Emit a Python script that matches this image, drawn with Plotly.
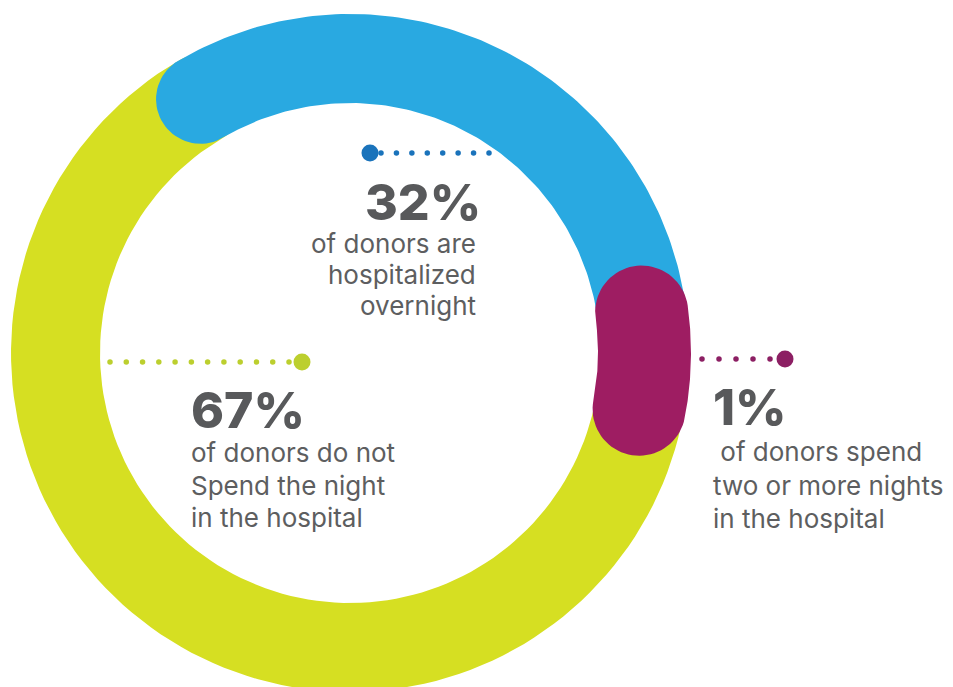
import numpy as np
import plotly.graph_objects as go

# ---- data -------------------------------------------------------------
categories = ["Hospitalized overnight", "Two or more nights", "No overnight stay"]
percent = [32, 1, 67]
percent_labels = ["32%", "1%", "67%"]
descriptions = [
    ["of donors are", "hospitalized", "overnight"],
    ["\u00a0of donors spend", "two or more nights", "in the hospital"],
    ["of donors do not", "Spend the night", "in the hospital"],
]

# ---- style ------------------------------------------------------------
ring_colors = ["#29a9e1", "#9e1d62", "#d6df22"]
dot_colors = ["#1a73bb", "#8c1f63", "#bccf2e"]
TEXT_GREY = "#58595b"
BODY_GREY = "#5d5e60"
FONT = "Inter"

W, H = 953, 687
CX, CY = 350, 353          # ring centre in page pixels
R_OUT, R_IN = 339, 250     # ring radii (px)
START = -30.5              # first slice starts here (deg, clockwise from 12 o'clock)
MIN_SPAN = 19              # tiny slices are drawn as a pill at least this long
TUCK = 2.7                 # pills tuck back over the previous slice's end cap
PILL_GROW = 2              # pills are a touch thicker than the ring


def px(x, y):
    """page pixel -> data coordinates (origin at ring centre, y up)"""
    return x - CX, CY - y


def rounded_arc(a0, a1, r_mid, half, n=120):
    """closed outline of an arc band with round caps (angles in degrees)"""
    t0, t1 = np.radians(a0), np.radians(a1)
    th = np.linspace(t0, t1, n)
    ox, oy = (r_mid + half) * np.sin(th), (r_mid + half) * np.cos(th)
    ix, iy = (r_mid - half) * np.sin(th[::-1]), (r_mid - half) * np.cos(th[::-1])

    def cap(t, phis):
        cx, cy = r_mid * np.sin(t), r_mid * np.cos(t)
        ur = np.array([np.sin(t), np.cos(t)])
        ut = np.array([np.cos(t), -np.sin(t)])
        return (cx + half * (np.cos(phis) * ur[0] + np.sin(phis) * ut[0]),
                cy + half * (np.cos(phis) * ur[1] + np.sin(phis) * ut[1]))

    ex, ey = cap(t1, np.linspace(0, np.pi, 40))
    sx, sy = cap(t0, np.linspace(np.pi, 2 * np.pi, 40))
    xs = np.concatenate([ox, ex, ix, sx])
    ys = np.concatenate([oy, ey, iy, sy])
    return xs, ys


# slice angles from the percentages
cum = np.concatenate([[0], np.cumsum(percent)[:-1]])
starts = START + np.array(cum) * 3.6
spans = np.array(percent) * 3.6

r_mid = (R_OUT + R_IN) / 2
half = (R_OUT - R_IN) / 2

fig = go.Figure()

# largest slice underneath, then the others stacked on top
draw_order = [2, 0, 1]
for i in draw_order:
    a0, span = starts[i], spans[i]
    h = half
    if span < MIN_SPAN:
        a0 = a0 - TUCK
        span = MIN_SPAN
        h = half + PILL_GROW
    xs, ys = rounded_arc(a0, a0 + span, r_mid, h)
    fig.add_trace(go.Scatter(
        x=xs, y=ys, mode="lines", fill="toself",
        fillcolor=ring_colors[i], line=dict(width=0, color=ring_colors[i]),
        hoverinfo="text", text=f"{categories[i]}: {percent[i]}%",
        showlegend=False,
    ))

# ---- dotted leaders ---------------------------------------------------
# (small dots from, small dots to, count, big dot x, y) in page pixels
leaders = [
    (381, 489, 8, 370, 153),
    (702, 770, 5, 785, 359),
    (110, 289, 12, 302, 362),
]
for i, (s0, s1, n, bx, by) in enumerate(leaders):
    sx = np.linspace(s0, s1, n)
    dx, dy = px(sx, np.full(n, by))
    fig.add_trace(go.Scatter(x=dx, y=dy, mode="markers",
                             marker=dict(size=5.5, color=dot_colors[i], line=dict(width=0)),
                             hoverinfo="skip", showlegend=False))
    bxd, byd = px(bx, by)
    fig.add_trace(go.Scatter(x=[bxd], y=[byd], mode="markers",
                             marker=dict(size=17, color=dot_colors[i], line=dict(width=0)),
                             hoverinfo="skip", showlegend=False))

# ---- labels -----------------------------------------------------------
# (percent x, percent y-centre, text x, description line y-centres, alignment)
label_pos = [
    (483, 202, 478, [243, 274, 305], "right"),
    (711, 407, 711, [451, 485, 518], "left"),
    (189, 410, 189, [452, 485, 517], "left"),
]
annotations = []
for i, (pxx, py_pct, tx, py_lines, align) in enumerate(label_pos):
    x0, y0 = px(pxx, py_pct)
    annotations.append(dict(
        x=x0, y=y0, xref="x", yref="y", xanchor=align, yanchor="middle",
        text=percent_labels[i], showarrow=False, align=align,
        font=dict(family=FONT, size=50, color=TEXT_GREY, weight=800),
    ))
    for line, py_line in zip(descriptions[i], py_lines):
        x1, y1 = px(tx, py_line)
        annotations.append(dict(
            x=x1, y=y1, xref="x", yref="y", xanchor=align, yanchor="middle",
            text=line, showarrow=False, align=align,
            font=dict(family=FONT, size=26, color=BODY_GREY),
        ))

fig.update_layout(
    width=W, height=H,
    margin=dict(l=0, r=0, t=0, b=0),
    paper_bgcolor="white", plot_bgcolor="white",
    xaxis=dict(range=[-CX, W - CX], visible=False, fixedrange=True),
    yaxis=dict(range=[CY - H, CY], visible=False, fixedrange=True),
    annotations=annotations,
    showlegend=False,
)

fig.write_html("out.html")
